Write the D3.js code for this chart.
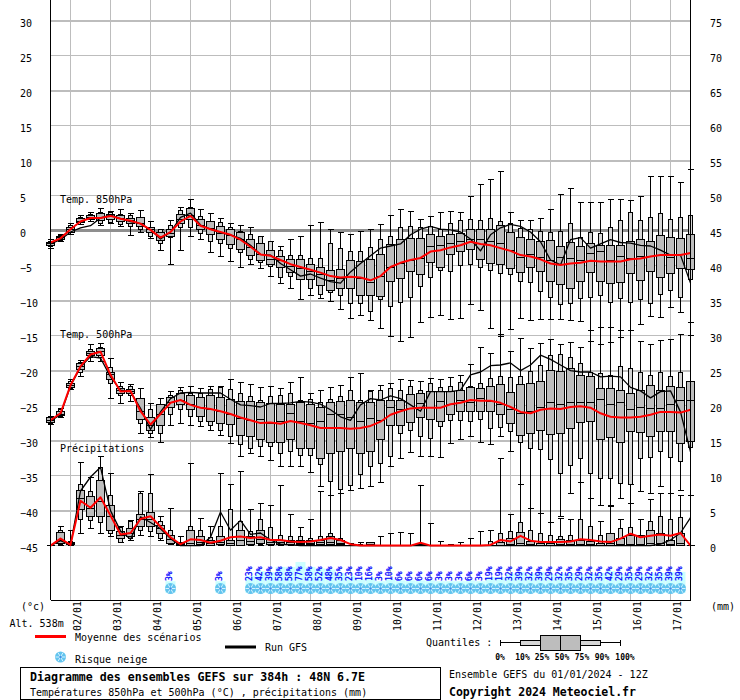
<!DOCTYPE html>
<html>

<head>
  <meta charset="utf-8">
  <script src="https://d3js.org/d3.v7.min.js"></script>
  <style>
    html, body { margin: 0; padding: 0; background: #fff; }
    svg { display: block; }
    text { font-family: "DejaVu Sans Mono", monospace; font-size: 10px; fill: #000; }
  </style>
</head>

<body>
  <svg id="chart" width="740" height="700"></svg>
</body>

<script>
  // quantile rows : min, p10, p25, median, p75, p90, max (one row every 6h)
  var t850Box = [
    [-2.3,-2.1,-1.9,-1.7,-1.5,-1.3,-1.0],[-1.4,-1.2,-1.0,-.8,-.6,-.5,-.4],[-.4,-.1,-.1,.3,.7,.9,1.2],
    [1.1,1.3,1.3,1.5,1.95,2.1,2.3],[1.5,1.8,1.8,2.1,2.4,2.5,2.8],[1,1.25,1.7,2.1,2.6,2.8,3.4],
    [1.2,1.3,1.8,2.2,2.5,2.8,3],[.8,1.1,1.5,1.9,2.3,2.5,3.2],[-.5,.8,1.2,1.6,2,2.3,2.7],
    [0,.4,.8,1.2,2.1,2.1,3.1],[-.9,-.6,0,.3,.7,.7,1.5],[-2.7,-1.7,-1.2,-.7,-.1,.3,.4],
    [-4.6,-.8,-.7,-.2,.4,1,1.6],[-2.6,.7,1.2,1.8,2.5,3.1,3.5],[-.6,.7,1.8,2.4,3.4,3.5,4.6],
    [-1,-.2,.3,.9,1.8,2.2,3.2],[-2.9,-1.4,-.4,.5,1.5,1.5,2.7],[-3.5,-1.7,-1.1,-.2,.8,1.4,2],
    [-4.2,-2.3,-1.8,-.5,.3,.6,1.2],[-5,-2.9,-2.5,-1.1,0,.1,1],[-4.7,-3.9,-3.4,-2.2,-1.1,-.3,.7],
    [-5.2,-4.4,-4,-3.2,-1.7,-.7,-.7],[-6.3,-4.9,-4.7,-3.9,-2.6,-1.4,-1.4],[-7.3,-6.5,-5,-4.1,-3.5,-2.7,-2.1],
    [-8,-6.3,-5.8,-4.9,-3.9,-3.3,-1],[-9.6,-6.8,-6.8,-5.2,-3.9,-3.3,-.6],[-9,-8.1,-6.8,-5.7,-4.6,-3.8,1],
    [-9.5,-8.9,-7.6,-6.1,-5,-3.8,1.3],[-9.9,-8.6,-8.3,-6.9,-5.5,-1.7,.4],[-11.1,-9.1,-8,-6.6,-5.3,-2.3,0],
    [-12.4,-10.2,-8.1,-6.4,-4.1,-2.8,-.4],[-11.9,-10.2,-9,-6.6,-4.2,-2.8,.1],[-12.6,-11.3,-9.1,-7.2,-3.9,-2.2,.4],
    [-13.8,-9.6,-9.2,-6.4,-3.2,-1.1,1.1],[-14.9,-10.6,-7,-5,-1.8,-.6,2.3],[-15.7,-10.1,-6.6,-4.5,-1,.7,3.2],
    [-15,-9.3,-5.7,-4,-.9,.8,3],[-12.9,-7.8,-6,-3.8,-.9,.7,1.8],[-12.2,-6.5,-4.4,-2.1,-.3,.8,2.2],
    [-11.9,-5.5,-5,-1.9,-.6,.3,2.8],[-12.5,-5.7,-3.2,-1.7,-.4,1.2,3],[-12.4,-4.8,-2.8,-1.4,-.2,1.6,2.8],
    [-10.3,-4.6,-2.5,-1,.3,1.8,5.1],[-11.2,-5.1,-3.9,-1,.4,1.6,6.8],[-13.8,-5.5,-4.5,-1.3,.4,2,7.5],
    [-14.9,-5.9,-4.6,-1.6,.9,1.5,8.7],[-13.9,-6,-5.2,-2.6,-.1,1.2,2.8],[-12.3,-7.1,-5.8,-3.7,-.8,.5,1.6],
    [-12.7,-7.2,-5,-3.2,-1.1,.3,1.6],[-12.5,-8.5,-5.7,-3.7,-1.4,.1,2],[-12.5,-9.3,-7,-4.1,-1.2,0,3.2],
    [-12.5,-10.3,-7.5,-3.6,-2,.1,5.3],[-12.6,-10.2,-8,-3.8,-1.5,1.2,6.2],[-12.8,-9.5,-7.1,-4,-2,-.8,4.2],
    [-15.7,-9.3,-5.8,-3,-1.7,-.1,4.2],[-16.1,-9.1,-7,-2.8,-1.9,-.2,4.2],[-15.8,-10,-7.3,-4,-1.9,.7,4.7],
    [-15,-9.5,-7.2,-3.5,-1.9,1.6,4.7],[-14,-10,-5.9,-3.8,-1.3,2.8,4.5],[-13.2,-9.6,-6.9,-3.5,-1.1,1.7,5.1],
    [-12,-10.2,-5.6,-3.5,-1.3,2.1,8],[-12.2,-8.9,-6.5,-3.3,-.5,2.7,8],[-10.8,-8.3,-5.9,-3.6,-.8,1.8,8],
    [-11.5,-9.3,-5.2,-3.2,-.9,2.1,7.1],[-12.9,-6.8,-5.4,-3.8,-.3,2.3,9]
  ];
  var t500Box = [
    [-27.5,-27.3,-27.2,-26.9,-26.5,-26.4,-26.3],[-26.5,-26.3,-26.2,-26,-25.6,-25.4,-25.2],[-22.5,-22.3,-22.2,-21.9,-21.6,-21.4,-21.1],
    [-20.6,-20,-19.7,-19.2,-18.8,-18.6,-18.3],[-18.5,-17.9,-17.7,-17.4,-17,-16.8,-16.1],[-18.5,-17.9,-17.6,-17.1,-16.7,-16.5,-15.9],
    [-23.8,-21.6,-21,-20.4,-20,-19.3,-18],[-24.5,-23.3,-23,-22.7,-22.3,-22.1,-21.5],[-24.2,-23.4,-23.1,-22.8,-22.5,-22.1,-21.8],
    [-28.8,-27.3,-26.8,-25.6,-23.8,-23.8,-22.3],[-29.3,-28.8,-28.4,-27.6,-26.5,-25.4,-24.5],[-30,-28.8,-27.7,-26.1,-24.7,-24.7,-23.8],
    [-27.6,-26,-25,-24.4,-23.7,-23.4,-22.8],[-27.4,-25.4,-24.6,-24,-23.1,-22.6,-22.2],[-27.6,-26.3,-25.3,-24.6,-23.4,-23,-22],
    [-27.8,-27,-26.4,-25.1,-23.7,-23,-22.3],[-28.3,-27.6,-27.1,-25.4,-23.3,-22.5,-22],[-29.1,-28.3,-27.3,-25.6,-23.7,-22.2,-22.1],
    [-30.2,-29.2,-27.5,-26,-23.9,-22.5,-21],[-32,-30.4,-29,-26.6,-24.2,-23,-21.5],[-31.7,-30.9,-29.2,-26.9,-24.2,-23.5,-21.8],
    [-32.1,-30.7,-29.7,-26.8,-24.3,-24,-22.2],[-32.7,-30.6,-30,-27.3,-24.5,-23.5,-22.1],[-33.5,-31.7,-30.1,-27,-24.6,-23.3,-22.4],
    [-33.5,-31.3,-29.7,-25.9,-24.6,-23,-21.5],[-33.5,-31.9,-30.9,-27,-24.3,-24,-20.8],[-34.3,-31.9,-30.9,-27.3,-24.6,-23.9,-23],
    [-36.4,-33.2,-32.3,-27,-25,-24.4,-22.6],[-37.6,-35.6,-31.6,-26,-24.3,-23.9,-22.2],[-37.3,-36.8,-31.4,-26,-24.2,-23.5,-21.9],
    [-36.9,-36.2,-30.9,-26.5,-24,-22.6,-20.8],[-36.7,-34.7,-31.6,-27.1,-24.3,-24,-20.2],[-36.4,-33.5,-31.4,-26.6,-24.3,-22.8,-22.7],
    [-35.8,-33.1,-29.7,-26.9,-24,-22.6,-21.9],[-33.5,-32.1,-27.7,-25,-24,-22.3,-21.6],[-32.3,-28.8,-27.6,-25.3,-24,-22.6,-21],
    [-31.5,-28.4,-27.2,-25.2,-23.2,-22.1,-21.2],[-32.1,-29.2,-26.5,-24.5,-23,-22.6,-21.4],[-32.1,-29.5,-26.8,-25.1,-22.8,-21.6,-20.9],
    [-32.2,-27.8,-27.1,-24.2,-22.8,-22.2,-21.1],[-30.2,-26.9,-26,-24.7,-22.8,-22.1,-20.8],[-29.7,-26.9,-25.7,-24.1,-22.7,-21.5,-20.5],
    [-29.2,-27.1,-25.7,-24.3,-22.2,-22,-18.9],[-30,-26.8,-25.6,-23.8,-22.3,-21.6,-16.5],[-30.4,-28,-25.6,-24.2,-22,-20.9,-17.3],
    [-29.2,-27.9,-26,-24.7,-21.8,-20.7,-14.7],[-31.3,-28.5,-27.3,-25.3,-22.9,-20.8,-17.1],[-36.1,-30,-29,-25.9,-21.8,-20.6,-15.2],
    [-39.5,-30.9,-28.8,-25.6,-21.6,-19.9,-16.6],[-40.2,-31,-28.3,-25,-21.3,-19,-15.9],[-41.5,-32.5,-28.9,-24.4,-19.8,-17.6,-15.3],
    [-40.6,-34.5,-28.8,-24.6,-19.9,-17.5,-16],[-37.3,-33.4,-28,-24.4,-19.5,-17.9,-15.8],[-35.8,-32.3,-27.2,-24.4,-20.5,-18.8,-16.5],
    [-38,-34.5,-27.1,-24.4,-20.6,-20,-14],[-39.1,-35.2,-29.6,-23.9,-22.3,-20.2,-13.7],[-39.1,-35.2,-29.4,-24.7,-22.3,-20.5,-13.7],
    [-38,-35.9,-30.1,-24.4,-22.7,-19.2,-14],[-38.8,-36,-28.5,-25.4,-23.1,-19.5,-14],[-37.1,-32.3,-28.6,-25,-22.7,-20.1,-15.7],
    [-37.3,-32.2,-29.2,-25.2,-21.9,-20.5,-16],[-36.4,-31.4,-28.5,-25.2,-22.6,-20,-15.5],[-37.4,-32.2,-28.5,-24.7,-22,-20.7,-15.3],
    [-36.9,-32.8,-30.2,-24.1,-22.2,-20,-14.7],[-37.6,-30.8,-29.9,-24.1,-21.3,-21.3,-14.8]
  ];
  var precipBox = [
    [.2,.2,.2,.2,.2,.2,.2],[.2,.3,.5,1,2.1,2.4,2.9],[.2,.3,.4,.5,.7,.8,2.4],
    [2,4,5.3,7,8.1,9,12.1],[2.6,3.8,4.3,5.5,7.2,8,10],[2,3.5,4.3,6.5,9.5,11.4,12.9],
    [1.5,1.9,2.4,4.3,5.9,7.4,10.5],[.6,.7,1.2,1.7,2.2,2.8,2.9],[.9,1.2,1.5,2,2.7,3.6,3.8],
    [1.7,2.4,2.9,3.9,4.7,7.6,8],[1.5,2.2,2.9,4,5,7.7,10.4],[1,1.2,2,2.7,3.1,3.6,4.3],
    [.3,.4,.5,1.1,1.7,2.4,5.5],[.2,.2,.2,.3,.5,.6,1.5],[.2,.2,.2,.5,2.4,3,12],
    [.2,.2,.3,.7,1.5,2.4,4.1],[.2,.2,.2,.5,1,1.3,2.9],[.2,.2,.3,.6,1.5,2.9,10.5],
    [.2,.2,.2,.5,1,5.3,8.9],[.2,.2,.2,.9,2.3,3.6,10.8],[.2,.2,.4,.8,1.5,2.2,5.4],
    [.2,.3,.5,1.1,2.3,3.9,6.2],[.2,.2,.4,.7,1.1,2.8,6],[.2,.2,.3,.6,1,1.6,8.8],
    [.2,.2,.3,.6,1,1.5,4.7],[.2,.2,.3,.5,1,1.5,2.8],[.2,.2,.3,.5,1,1.2,4],
    [.2,.2,.3,.6,1,1.5,7.9],[.2,.2,.4,.7,1.5,2,7.4],[.2,.2,.3,.5,1,1.2,7.7],
    [.2,.2,.2,.2,.2,.2,.5],[.2,.2,.2,.2,.2,.3,.7],[.2,.2,.2,.3,.6,.6,.7],
    [.2,.2,.2,.2,.2,.2,1.5],[.2,.2,.2,.2,.2,.2,2],[.2,.2,.2,.2,.2,.2,2.1],
    [.2,.2,.2,.2,.2,.2,2],[.2,.2,.2,.2,.3,.5,8.8],[.2,.2,.2,.2,.2,.2,3.4],
    [.2,.2,.2,.2,.2,.2,.8],[.2,.2,.2,.2,.2,.2,.3],[.2,.2,.2,.2,.2,.2,.7],
    [.2,.2,.2,.2,.2,.2,1.2],[.2,.2,.2,.2,.2,.2,2.2],[.2,.2,.2,.2,.2,.8,2.4],
    [.2,.2,.2,.2,.6,2,12.7],[.2,.2,.2,.3,1.2,2.2,4.6],[.2,.2,.2,.5,2.1,3.5,8.9],
    [.2,.2,.2,.3,.8,2.4,5.5],[.2,.2,.2,.2,.5,2,4.8],[.2,.2,.2,.2,.5,1.6,3.5],
    [.2,.2,.2,.4,1.1,1.5,4.1],[.2,.2,.2,.3,.9,1.7,4],[.2,.2,.2,.4,.9,4,9.2],
    [.2,.2,.2,.3,.8,2.9,7],[.2,.2,.2,.2,.5,1.6,3.6],[.2,.2,.2,.5,1.9,2,5.8],
    [.2,.2,.2,.3,1.2,2.6,3.9],[.2,.2,.2,.3,1.6,2.8,8.9],[.2,.2,.2,.4,1.6,1.7,4],
    [.2,.2,.2,.5,2.3,3.6,6.8],[.2,.2,.2,.5,2,4.3,7.7],[.2,.2,.2,.3,.9,4,7.6],
    [.2,.2,.2,.5,2,4.2,7.3],[.2,.2,.2,.2,.2,.2,.2]
  ];

  var t850Mean = [-1.5,-.9,.4,1.5,2,2,2.3,1.9,1.6,1.2,.3,-.8,0,1.5,2.3,.9,.4,0,-.4,-1.1,-2.1,-3.2,-3.4,-4,-4.6,-5,-5.4,-5.8,-6.3,-6.5,-6.4,-6.5,-6.9,-6.3,-5,-4.4,-4,-3.7,-2.8,-2.6,-2.2,-1.9,-1.4,-1.7,-1.9,-2.3,-2.7,-3.3,-3.5,-3.9,-4.5,-4.7,-4.5,-4.4,-4.1,-4.2,-4.2,-4.2,-3.9,-3.8,-3.5,-3.3,-3.3,-3.3,-3];
  var t850Gfs = [-1.7,-1.1,0,.6,.9,2,2.4,1.9,1.5,1.2,.3,-1,0,2.1,2.7,1,.4,-.1,-.4,-.9,-1.9,-3.2,-3.3,-4.5,-5.4,-6.3,-6,-6.6,-7.1,-7.3,-5.7,-4.5,-3.4,-2.3,-2,-1.7,-.4,.4,.8,.4,.3,0,-1,-2.7,-.4,.6,1.1,.8,0,-1.4,-4,-4.7,-1.1,-.8,-2.3,-1.7,-1.1,-1.5,-1.6,-1.9,-2,-2.6,-3.3,-3.3,-7.3];
  var t500Mean = [-26.9,-25.9,-21.9,-19.2,-17.5,-17.1,-20.4,-22.8,-22.7,-25.6,-27.5,-26,-24.4,-24,-24.7,-25.1,-25.3,-25.6,-26,-26.5,-26.9,-27.3,-27.2,-27.4,-27,-27.3,-27.6,-28,-28,-28,-28.1,-28,-27.7,-27.1,-26.1,-25.6,-25.2,-25.1,-25.1,-25.1,-24.6,-24.4,-24,-24.1,-24.1,-24.4,-25,-25.7,-25.9,-25.4,-25.2,-25.3,-25,-24.9,-25.1,-25.9,-26.4,-26.5,-26.5,-26.4,-26.1,-25.7,-25.7,-25.8,-25.4];
  var t500Gfs = [-27,-26.1,-22,-19.3,-17.8,-18,-20.7,-22.6,-22.8,-25.2,-28.2,-25.7,-23.8,-23,-22.9,-23,-23,-23,-23.9,-24.7,-24.8,-25,-24.5,-24.5,-24.4,-24.2,-24.3,-24.6,-25.4,-26.4,-26.9,-24.7,-23.8,-24,-23.4,-23.8,-24.7,-25.6,-22.8,-22.8,-22.8,-22.6,-20.4,-20,-19.1,-19,-18.7,-19.8,-19,-17.6,-18.2,-19,-19.8,-20,-20,-20.7,-20.6,-20.7,-22.2,-22.7,-23.7,-22.8,-22.7,-25.7,-31.4];
  var precipMean = [.2,1.2,.3,6.6,5.6,7.1,4.5,1.8,2,4,4.4,2.9,1.4,.4,1.1,1,.6,.9,1.4,1.5,1.3,1.4,1,1,.8,.7,.8,1,1.3,1,.4,.2,.2,.2,.2,.2,.2,.6,.2,.2,.2,.2,.2,.2,.3,1,.8,1.6,.9,.7,.7,.7,.8,1.1,1,.8,.7,1.2,1.9,1.4,1.6,1.8,1.6,2,.2];
  var precipGfs = [.2,.9,.3,8,10,11.4,5.2,2.3,1.1,4.3,3.5,2.6,1.2,.2,.2,.2,1.4,5,2.4,3.8,1.8,2,1,.4,.3,.2,.2,.2,.2,.2,.2,.2,.2,.2,.2,.2,.2,.2,.2,.2,.2,.2,.2,.2,.2,.2,.2,.2,.2,.2,.2,.2,.2,.2,.2,.2,.2,.2,.2,.2,.2,.4,1,2,4.2];

  var snowIndex = [12,17,20,21,22,23,24,25,26,27,28,29,30,31,32,33,34,35,36,37,38,39,40,41,42,43,44,45,46,47,48,49,50,51,52,53,54,55,56,57,58,59,60,61,62,63];
  var snowRisk = [3,3,23,42,39,58,58,77,58,52,48,35,23,10,16,3,10,6,6,6,6,3,3,3,6,3,19,19,32,39,32,39,29,32,35,29,32,35,42,29,35,29,32,35,39,39];

  var dateLabels = ["02/01","03/01","04/01","05/01","06/01","07/01","08/01","09/01","10/01","11/01","12/01","13/01","14/01","15/01","16/01","17/01"];
  var tempTicks = d3.range(-45, 31, 5);
  var mmTicks = d3.range(0, 76, 5);
  var quantileLabels = ["0%","10%","25%","50%","75%","90%","100%"];

  var svg = d3.select("#chart");

  var x = d3.scaleLinear().domain([0, 64]).range([50.5, 690.5]);
  var yTemp = d3.scaleLinear().domain([-45, 30]).range([547, 22]);
  var yMm = d3.scaleLinear().domain([0, 75]).range([547, 22]);
  var snowH = d3.scaleLinear().domain([0, 100]).range([0, 26]);
  var gridShift = -1.5; // grid rows sit a bit above the marks in the original

  // grid
  var grid = svg.append("g").attr("shape-rendering", "crispEdges");
  dateLabels.forEach(function(d, i) {
    grid.append("line").attr("x1", x(2 + i * 4)).attr("x2", x(2 + i * 4))
      .attr("y1", 0).attr("y2", 600).attr("stroke", "#bdbdbd");
  });
  tempTicks.forEach(function(t) {
    var thick = t % 10 === 0;
    grid.append("line").attr("x1", x(0)).attr("x2", x(64))
      .attr("y1", yTemp(t) + gridShift).attr("y2", yTemp(t) + gridShift)
      .attr("stroke", t === 0 ? "#8f8f8f" : "#bdbdbd")
      .attr("stroke-width", t === 0 ? 3 : (thick ? 2 : 1));
  });

  // snow risk strip
  var snow = svg.append("g");
  snow.selectAll("rect").data(snowIndex).enter().append("rect")
    .attr("x", function(d) { return x(d) - 5; })
    .attr("width", 10)
    .attr("y", function(d, i) { return 582 - snowH(snowRisk[i]); })
    .attr("height", function(d, i) { return 11 + snowH(snowRisk[i]); })
    .attr("fill", "#ccffff");

  snowIndex.forEach(function(d, i) {
    flake(snow, x(d), 588.5);
    snow.append("text")
      .attr("transform", "translate(" + (x(d) + 1.5) + ",581) rotate(-90)")
      .style("font-size", "8px").style("fill", "#0000ff").style("stroke", "#0000ff").style("stroke-width", 0.25)
      .text(snowRisk[i] + "%");
  });

  function flake(g, cx, cy) {
    g.append("circle").attr("cx", cx).attr("cy", cy).attr("r", 5.5).attr("fill", "#62c4ee");
    [0, 60, 120].forEach(function(a) {
      var dx = Math.cos(a * Math.PI / 180) * 5, dy = Math.sin(a * Math.PI / 180) * 5;
      g.append("line").attr("x1", cx - dx).attr("x2", cx + dx)
        .attr("y1", cy - dy).attr("y2", cy + dy)
        .attr("stroke", "#d6f2ff").attr("stroke-width", 1);
    });
    g.append("circle").attr("cx", cx).attr("cy", cy).attr("r", 1.2).attr("fill", "#3f8fe8");
  }

  // one set of whisker / p10-p90 / p25-p75 / median per step
  function drawBoxes(rows, y) {
    var g = svg.append("g").attr("shape-rendering", "crispEdges").attr("stroke", "#000");
    rows.forEach(function(r, i) {
      var cx = x(i);
      g.append("line").attr("x1", cx).attr("x2", cx).attr("y1", y(r[0])).attr("y2", y(r[6]));
      g.append("line").attr("x1", cx - 3).attr("x2", cx + 3).attr("y1", y(r[0])).attr("y2", y(r[0]));
      g.append("line").attr("x1", cx - 3).attr("x2", cx + 3).attr("y1", y(r[6])).attr("y2", y(r[6]));
      g.append("rect").attr("x", cx - 2).attr("width", 4)
        .attr("y", y(r[5])).attr("height", y(r[1]) - y(r[5])).attr("fill", "#d6d6d6");
      g.append("rect").attr("x", cx - 4).attr("width", 8)
        .attr("y", y(r[4])).attr("height", y(r[2]) - y(r[4])).attr("fill", "#bdbdbd");
      g.append("line").attr("x1", cx - 4).attr("x2", cx + 4).attr("y1", y(r[3])).attr("y2", y(r[3]));
    });
  }

  function drawLine(values, y, color, width) {
    var line = d3.line().x(function(d, i) { return x(i); }).y(function(d) { return y(d); });
    svg.append("path").attr("d", line(values)).attr("fill", "none")
      .attr("stroke", color).attr("stroke-width", width).attr("stroke-linejoin", "round");
  }

  drawBoxes(t850Box, yTemp);
  drawBoxes(t500Box, yTemp);
  drawBoxes(precipBox, yMm);

  drawLine(t850Gfs, yTemp, "#000", 1.3);
  drawLine(t500Gfs, yTemp, "#000", 1.3);
  drawLine(precipGfs, yMm, "#000", 1.3);
  drawLine(t850Mean, yTemp, "#ff0000", 2);
  drawLine(t500Mean, yTemp, "#ff0000", 2);
  drawLine(precipMean, yMm, "#ff0000", 2);

  // frame
  var frame = svg.append("g").attr("shape-rendering", "crispEdges").attr("stroke", "#000");
  frame.append("line").attr("x1", x(0)).attr("x2", x(0)).attr("y1", 0).attr("y2", 600);
  frame.append("line").attr("x1", x(64)).attr("x2", x(64)).attr("y1", 0).attr("y2", 600);
  frame.append("line").attr("x1", x(0)).attr("x2", x(64)).attr("y1", 600.5).attr("y2", 600.5);

  // axes, labels start at fixed x like the original
  var leftAxis = d3.axisLeft(yTemp).tickValues(tempTicks).tickSize(0).offset(0);
  svg.append("g").call(leftAxis).call(function(g) {
    g.select(".domain").remove();
    g.selectAll("text").attr("x", 20).attr("dy", null).attr("y", 4.5).attr("text-anchor", "start");
  });
  var rightAxis = d3.axisRight(yMm).tickValues(mmTicks).tickSize(0).offset(0);
  svg.append("g").call(rightAxis).call(function(g) {
    g.select(".domain").remove();
    g.selectAll("text").attr("x", 710).attr("dy", null).attr("y", 4.5).attr("text-anchor", "start");
  });

  dateLabels.forEach(function(d, i) {
    svg.append("text")
      .attr("transform", "translate(" + (x(2 + i * 4) + 10.5) + ",631) rotate(-90)")
      .text(d);
  });

  function label(px, py, str, size, bold) {
    var t = svg.append("text").attr("x", px).attr("y", py).text(str);
    if (size) t.style("font-size", size + "px");
    if (bold) t.style("font-weight", "bold");
    return t;
  }

  label(60, 203, "Temp. 850hPa");
  label(60, 338, "Temp. 500hPa");
  label(60, 452, "Précipitations");
  label(21, 610, "(°c)");
  label(9.5, 627, "Alt. 538m");
  label(711, 610, "(mm)");

  // legend
  svg.append("rect").attr("x", 35).attr("y", 635).attr("width", 31).attr("height", 3).attr("fill", "#ff0000");
  label(75, 641, "Moyenne des scénarios");
  svg.append("rect").attr("x", 225).attr("y", 645.5).attr("width", 31).attr("height", 3).attr("fill", "#000");
  label(265, 651, "Run GFS");
  flake(svg, 60.5, 657);
  label(75, 663, "Risque neige");

  label(426, 646, "Quantiles :");
  var q = svg.append("g").attr("shape-rendering", "crispEdges").attr("stroke", "#000");
  q.append("line").attr("x1", 500.5).attr("x2", 620.5).attr("y1", 642.5).attr("y2", 642.5);
  q.append("line").attr("x1", 500.5).attr("x2", 500.5).attr("y1", 640).attr("y2", 646);
  q.append("line").attr("x1", 620.5).attr("x2", 620.5).attr("y1", 640).attr("y2", 646);
  q.append("rect").attr("x", 520.5).attr("y", 640).attr("width", 80).attr("height", 5).attr("fill", "#d6d6d6");
  q.append("rect").attr("x", 540.5).attr("y", 635.5).attr("width", 40).attr("height", 15).attr("fill", "#bdbdbd");
  q.append("line").attr("x1", 560.5).attr("x2", 560.5).attr("y1", 636).attr("y2", 650);
  [500, 522.5, 542, 562, 582, 602, 625].forEach(function(px, i) {
    label(px, 660, quantileLabels[i], 8, true).attr("text-anchor", "middle");
  });

  // title block
  svg.append("rect").attr("x", 20.5).attr("y", 667.5).attr("width", 420).attr("height", 32)
    .attr("fill", "#fff").attr("stroke", "#000").attr("shape-rendering", "crispEdges");
  label(30, 681, "Diagramme des ensembles GEFS sur 384h : 48N 6.7E", 11.6, true);
  label(30, 696, "Températures 850hPa et 500hPa (°C) , précipitations (mm)");
  label(449, 678, "Ensemble GEFS du 01/01/2024 - 12Z");
  label(449, 696, "Copyright 2024 Meteociel.fr", 11.5, true);
</script>

</html>
